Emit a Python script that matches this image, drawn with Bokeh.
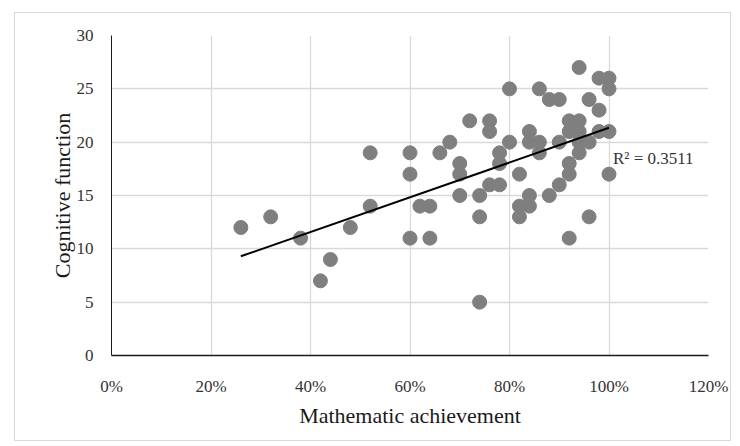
import numpy as np
from bokeh.plotting import figure
from bokeh.models import FixedTicker, NumeralTickFormatter, ColumnDataSource, Range1d
from bokeh.core.properties import value
from bokeh.embed import file_html
from bokeh.resources import INLINE

# Mathematic achievement (fraction) and cognitive function score
math_ach = [0.26, 0.32, 0.38, 0.42, 0.44, 0.48, 0.52, 0.52,
            0.60, 0.60, 0.60, 0.62, 0.64, 0.64, 0.66, 0.68,
            0.70, 0.70, 0.70, 0.72, 0.74, 0.74, 0.74,
            0.76, 0.76, 0.76, 0.78, 0.78, 0.78,
            0.80, 0.80, 0.82, 0.82, 0.82,
            0.84, 0.84, 0.84, 0.84, 0.86, 0.86, 0.86,
            0.88, 0.88, 0.90, 0.90, 0.90,
            0.92, 0.92, 0.92, 0.92, 0.92,
            0.94, 0.94, 0.94, 0.94, 0.94,
            0.96, 0.96, 0.96, 0.98, 0.98, 0.98,
            1.00, 1.00, 1.00, 1.00]
cognitive = [12, 13, 11, 7, 9, 12, 14, 19,
             19, 17, 11, 14, 14, 11, 19, 20,
             18, 17, 15, 22, 15, 13, 5,
             22, 21, 16, 16, 19, 18,
             25, 20, 17, 14, 13,
             21, 20, 15, 14, 25, 20, 19,
             24, 15, 24, 20, 16,
             22, 21, 18, 17, 11,
             27, 22, 21, 20, 19,
             24, 20, 13, 26, 23, 21,
             26, 25, 21, 17]

x_ticks = [0, 0.2, 0.4, 0.6, 0.8, 1.0, 1.2]
y_ticks = [0, 5, 10, 15, 20, 25, 30]
r2_label = "R² = 0.3511"

FONT = "Liberation Serif"

p = figure(width=717, height=429, output_backend="svg", toolbar_location=None,
           x_range=Range1d(0, 1.2), y_range=Range1d(0, 30),
           min_border_left=96, min_border_right=24, min_border_top=22, min_border_bottom=87)
p.styles = {"border": "1px solid #d9d9d9", "margin-left": "14px", "margin-top": "12px"}
p.outline_line_color = None
p.background_fill_color = "white"
p.border_fill_color = "white"

# grid
for g in (p.xgrid, p.ygrid):
    g.grid_line_color = "#d9d9d9"
    g.grid_line_width = 1.3
p.xgrid.ticker = FixedTicker(ticks=x_ticks)
p.ygrid.ticker = FixedTicker(ticks=y_ticks)

# axes
p.xaxis.ticker = FixedTicker(ticks=x_ticks)
p.yaxis.ticker = FixedTicker(ticks=y_ticks)
p.xaxis.formatter = NumeralTickFormatter(format="0%")
for ax in (p.xaxis[0], p.yaxis[0]):
    ax.major_tick_line_color = None
    ax.minor_tick_line_color = None
    ax.major_label_text_font = FONT
    ax.major_label_text_font_size = "17px"
    ax.major_label_text_color = "#333333"
    ax.axis_label_text_font = FONT
    ax.axis_label_text_font_size = "22px"
    ax.axis_label_text_font_style = "normal"
    ax.axis_label_text_color = "#1a1a1a"
p.xaxis.axis_label = "Mathematic achievement"
p.yaxis.axis_label = "Cognitive function"
p.xaxis.axis_line_color = "#1a1a1a"
p.xaxis.axis_line_width = 1.6
p.yaxis.axis_line_color = "#1a1a1a"
p.yaxis.axis_line_width = 1.0
p.xaxis.major_label_standoff = 15
p.yaxis.major_label_standoff = 12
p.xaxis.axis_label_standoff = 4
p.yaxis.axis_label_standoff = -1

src = ColumnDataSource(dict(x=math_ach, y=cognitive))
p.scatter("x", "y", source=src, size=14, fill_color="#7f7f7f", line_color="#7f7f7f")

# linear trendline from the data
slope, intercept = np.polyfit(math_ach, cognitive, 1)
xs = [min(math_ach), max(math_ach)]
ys = [slope * v + intercept for v in xs]
p.line(xs, ys, line_color="black", line_width=2)

p.text(x=[1.008], y=[18.5], text=[r2_label], text_font=value(FONT),
       text_font_size="17px", text_color="#333333", text_baseline="middle", text_align="left")

open("out.html", "w").write(file_html(p, INLINE))
